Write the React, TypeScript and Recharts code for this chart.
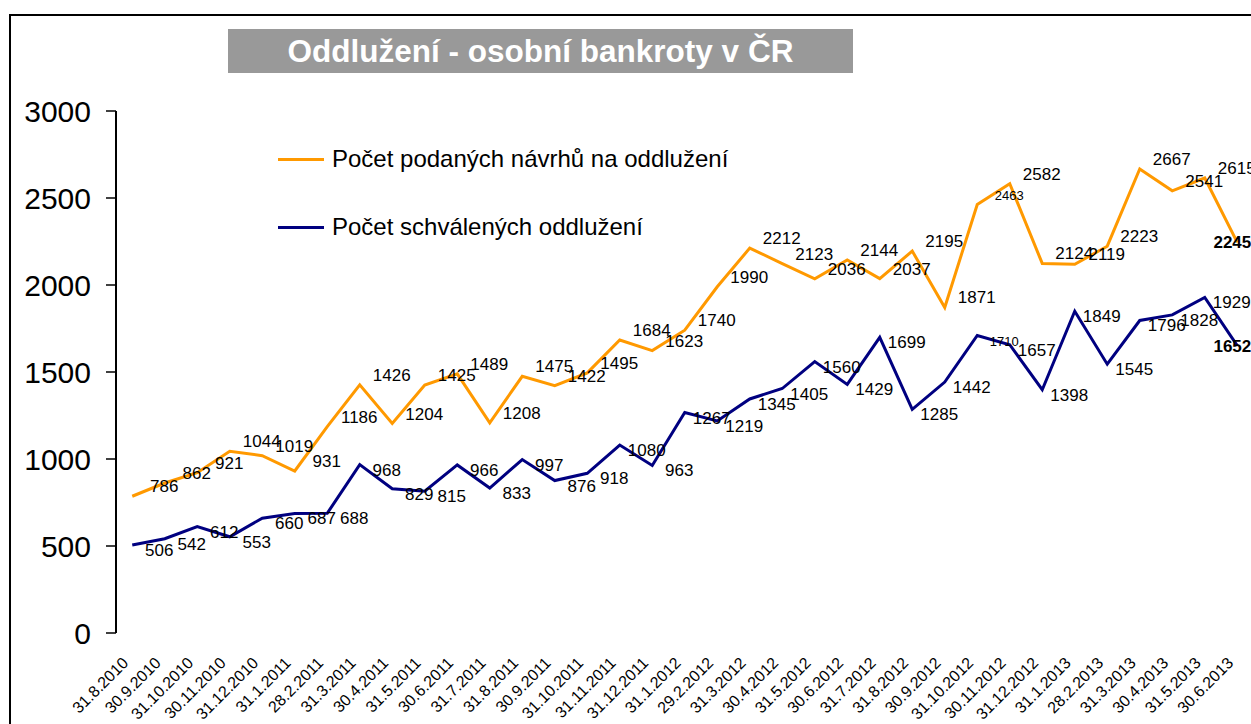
import { LineChart, Line, XAxis, YAxis, Legend, LabelList } from "recharts";

const DATES = [
  "31.8.2010", "30.9.2010", "31.10.2010", "30.11.2010", "31.12.2010",
  "31.1.2011", "28.2.2011", "31.3.2011", "30.4.2011", "31.5.2011", "30.6.2011",
  "31.7.2011", "31.8.2011", "30.9.2011", "31.10.2011", "31.11.2011", "31.12.2011",
  "31.1.2012", "29.2.2012", "31.3.2012", "30.4.2012", "31.5.2012", "30.6.2012",
  "31.7.2012", "31.8.2012", "30.9.2012", "31.10.2012", "30.11.2012", "31.12.2012",
  "31.1.2013", "28.2.2013", "31.3.2013", "30.4.2013", "31.5.2013", "30.6.2013",
];

// podané návrhy
const FILED = [
  786, 862, 921, 1044, 1019, 931, 1186, 1426, 1204, 1425, 1489, 1208, 1475,
  1422, 1495, 1684, 1623, 1740, 1990, 2212, 2123, 2036, 2144, 2037, 2195, 1871,
  2463, 2582, 2124, 2119, 2223, 2667, 2541, 2615, 2245,
];

// schválená oddlužení
const APPROVED = [
  506, 542, 612, 553, 660, 687, 688, 968, 829, 815, 966, 833, 997, 876, 918,
  1080, 963, 1267, 1219, 1345, 1405, 1560, 1429, 1699, 1285, 1442, 1710, 1657,
  1398, 1849, 1545, 1796, 1828, 1929, 1652,
];

const Y_TICKS = [0, 500, 1000, 1500, 2000, 2500, 3000];

const SERIES = [
  { key: "filed", name: "Počet podaných návrhů na oddlužení", color: "#FF9900" },
  { key: "approved", name: "Počet schválených oddlužení", color: "#000080" },
];

// labels that were shrunk in the original sheet
const SMALL_LABELS = [26];

const FONT = '"Liberation Sans", Arial, sans-serif';

const data = DATES.map((date, i) => ({
  idx: i,
  date,
  filed: FILED[i],
  approved: APPROVED[i],
}));
const lastIdx = DATES.length - 1;
const boundaries = [...DATES.map((_, i) => i - 0.5), DATES.length - 0.5];
const centers = DATES.map((_, i) => i);

const DateTick = (props: any) => {
  const { x, y, payload } = props;
  return (
    <g transform={`translate(${x - 3},${y + 31})`}>
      <text
        transform="rotate(-45)"
        textAnchor="end"
        fontSize={16}
        fontFamily={FONT}
        fill="#000"
      >
        {DATES[payload.value]}
      </text>
    </g>
  );
};

const pointLabel = (dx: number, dy: number) => (props: any) => {
  const { x, y, value, index } = props;
  if (index === lastIdx) {
    return (
      <text
        x={x + 14}
        y={y + 6}
        textAnchor="end"
        fontSize={17}
        fontWeight="bold"
        fontFamily={FONT}
        fill="#000"
      >
        {value}
      </text>
    );
  }
  const small = SMALL_LABELS.includes(index);
  return (
    <text
      x={x + dx}
      y={y + dy}
      textAnchor="middle"
      fontSize={small ? 13 : 17}
      fontFamily={FONT}
      fill="#000"
    >
      {value}
    </text>
  );
};

const LegendBox = () => (
  <div style={{ fontFamily: FONT, fontSize: 24, color: "#000" }}>
    {SERIES.map((s) => (
      <div
        key={s.key}
        style={{ display: "flex", alignItems: "center", height: 34, marginBottom: 34 }}
      >
        <span
          style={{ display: "inline-block", width: 46, height: 3, background: s.color, marginRight: 8 }}
        />
        <span style={{ whiteSpace: "nowrap" }}>{s.name}</span>
      </div>
    ))}
  </div>
);

export default function App() {
  return (
    <div
      style={{
        position: "absolute",
        left: 0,
        top: 0,
        width: 1251,
        height: 724,
        overflow: "hidden",
        background: "#fff",
      }}
    >
      <div
        style={{
          position: "absolute",
          left: 9,
          top: 14,
          width: 1400,
          height: 900,
          borderTop: "2px solid #000",
          borderLeft: "2px solid #000",
        }}
      />
      <div
        style={{
          position: "absolute",
          left: 228,
          top: 29,
          width: 625,
          height: 44,
          background: "#999999",
          color: "#fff",
          fontFamily: FONT,
          fontWeight: "bold",
          fontSize: 31.5,
          lineHeight: "44px",
          textAlign: "center",
          whiteSpace: "nowrap",
        }}
      >
        Oddlužení - osobní bankroty v ČR
      </div>
      <LineChart
        width={1260}
        height={724}
        data={data}
        margin={{ top: 111, right: 6.5, left: 0, bottom: 0 }}
      >
        <XAxis
          xAxisId="frame"
          type="number"
          dataKey="idx"
          domain={[-0.5, DATES.length - 0.5]}
          ticks={boundaries}
          tick={false}
          tickSize={6}
          height={0}
          axisLine={{ stroke: "#000", strokeWidth: 2 }}
          tickLine={{ stroke: "#000", strokeWidth: 1.5 }}
        />
        <XAxis
          xAxisId="labels"
          type="number"
          dataKey="idx"
          domain={[-0.5, DATES.length - 0.5]}
          ticks={centers}
          tick={<DateTick />}
          tickSize={0}
          tickMargin={0}
          height={91}
          axisLine={false}
          tickLine={false}
          interval={0}
        />
        <YAxis
          domain={[0, 3000]}
          ticks={Y_TICKS}
          width={116}
          tickSize={10}
          tickMargin={15}
          axisLine={{ stroke: "#000", strokeWidth: 2 }}
          tickLine={{ stroke: "#000", strokeWidth: 1.5 }}
          tick={{ fontSize: 30, fill: "#000", fontFamily: FONT }}
        />
        <Legend
          content={<LegendBox />}
          layout="vertical"
          align="center"
          verticalAlign="middle"
          wrapperStyle={{ left: 278, top: 142, width: "auto" }}
        />
        <Line
          xAxisId="frame"
          type="linear"
          dataKey="filed"
          name={SERIES[0].name}
          stroke={SERIES[0].color}
          strokeWidth={3}
          dot={false}
          activeDot={false}
          isAnimationActive={false}
        >
          <LabelList dataKey="filed" content={pointLabel(32, -4)} />
        </Line>
        <Line
          xAxisId="frame"
          type="linear"
          dataKey="approved"
          name={SERIES[1].name}
          stroke={SERIES[1].color}
          strokeWidth={3}
          dot={false}
          activeDot={false}
          isAnimationActive={false}
        >
          <LabelList dataKey="approved" content={pointLabel(27, 11)} />
        </Line>
      </LineChart>
    </div>
  );
}
